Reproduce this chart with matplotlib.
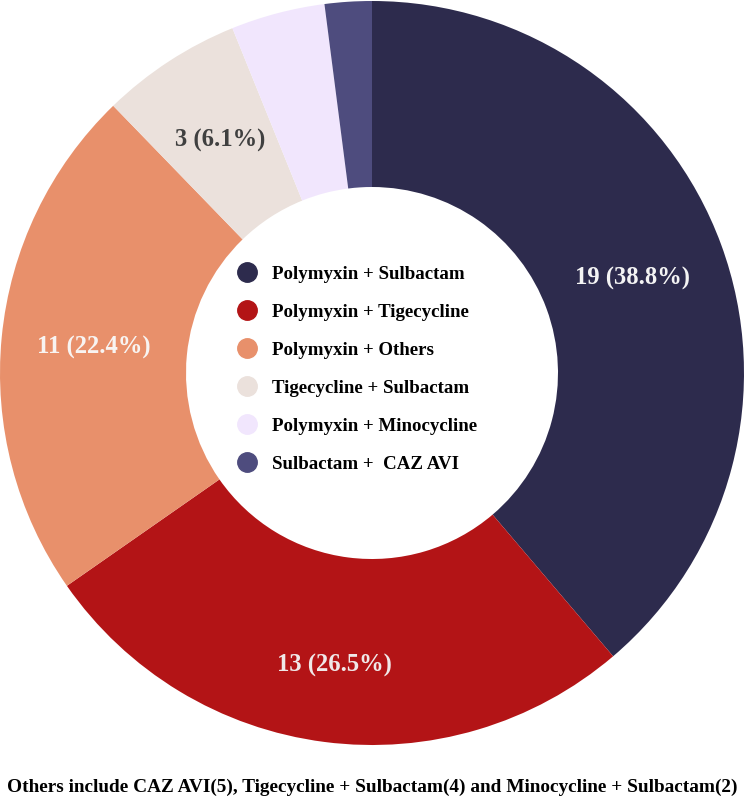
import numpy as np
import matplotlib.pyplot as plt
from matplotlib.lines import Line2D

plt.rcParams['font.family'] = ['Liberation Serif', 'DejaVu Serif']
plt.rcParams['font.weight'] = 'bold'

labels = ['Polymyxin + Sulbactam', 'Polymyxin + Tigecycline', 'Polymyxin + Others',
          'Tigecycline + Sulbactam', 'Polymyxin + Minocycline', 'Sulbactam +  CAZ AVI']
counts = [19, 13, 11, 3, 2, 1]
colors = ['#2d2b4d', '#b31416', '#e8906b', '#ebe1dc', '#f1e6fd', '#4e4c7e']
text_colors = ['#f4f4f4', '#f0e8e8', '#f8f4f2', '#404040', None, None]
note = 'Others include CAZ AVI(5), Tigecycline + Sulbactam(4) and Minocycline + Sulbactam(2)'

# label radius for each slice (small slices get no label)
label_r = [0.745, 0.79, 0.75, 0.75, None, None]

fig = plt.figure(figsize=(7.45, 8.04), dpi=100)
ax = fig.add_axes([0.0, 1 - 746 / 804, 744 / 745, 744 / 804])

total = sum(counts)

wedges, _ = ax.pie(counts, colors=colors, startangle=90, counterclock=False,
                   wedgeprops=dict(width=0.5, linewidth=0), radius=1.0)

for w, n, c, r in zip(wedges, counts, text_colors, label_r):
    if r is None:
        continue
    ang = np.deg2rad((w.theta1 + w.theta2) / 2)
    ax.text(r * np.cos(ang), r * np.sin(ang), '%d (%.1f%%)' % (n, 100 * n / total),
            ha='center', va='center', color=c, fontsize=17.7, fontweight='bold')

ax.set_xlim(-1.0, 1.0)
ax.set_ylim(-1.0, 1.0)
ax.set_aspect('equal')

handles = [Line2D([], [], marker='o', linestyle='none', markersize=14,
                  markerfacecolor=c, markeredgecolor=c) for c in colors]
ax.legend(handles, labels, loc='center', frameon=False, fontsize=13.6,
          labelspacing=1.1, handletextpad=0.3, bbox_to_anchor=(0.474, 0.506))

fig.text(0.5, 1 - 787 / 804, note, ha='center', va='center', fontsize=13.85, fontweight='bold')

fig.savefig('out.png', dpi=100)
